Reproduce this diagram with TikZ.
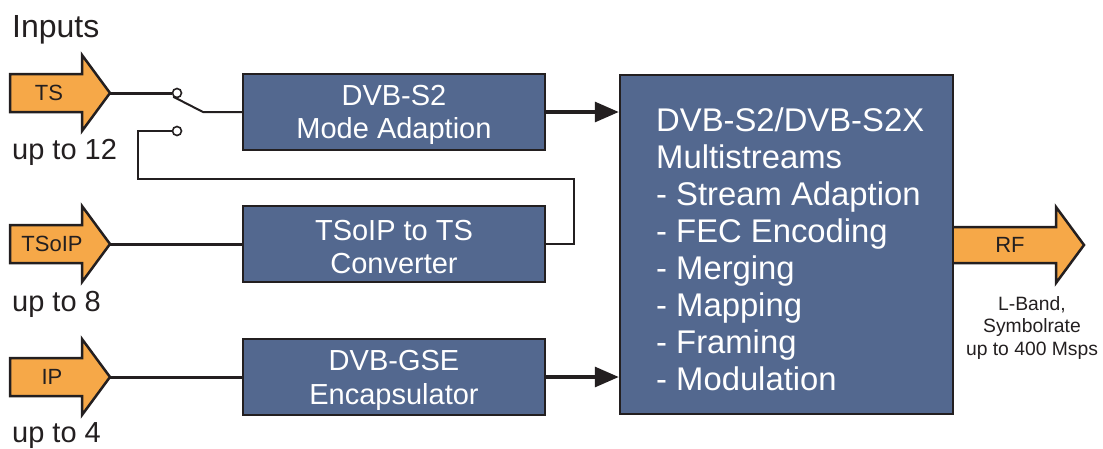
\documentclass[tikz,border=0pt]{standalone}
\usepackage{fontspec}
\setmainfont{Liberation Sans}
\usetikzlibrary{arrows.meta}
\definecolor{boxblue}{RGB}{83,104,143}
\definecolor{inorange}{RGB}{246,168,72}
\definecolor{ink}{RGB}{35,31,32}
\newcommand{\fsz}[2]{\fontsize{#1}{#2}\selectfont}
\newcommand{\topstrut}{\rule{0pt}{27pt}}
\begin{document}
\begin{tikzpicture}[x=1pt,y=-1pt,
  procbox/.style={draw=ink, line width=2.5pt, fill=boxblue, text=white,
    minimum width=302pt, minimum height=76pt, align=center,
    font=\fsz{29}{33}, inner sep=0pt},
  bigbox/.style={draw=ink, line width=2.5pt, fill=boxblue,
    minimum width=333pt, minimum height=339pt, inner sep=0pt},
  inarrow/.style={draw=ink, line width=2.5pt, fill=inorange, line join=miter},
  arrowlbl/.style={text=ink, font=\fsz{22}{26}, inner sep=0pt},
  plain/.style={text=ink, inner sep=0pt},
  wire/.style={draw=ink, line width=3pt},
  thinwire/.style={draw=ink, line width=2pt},
  flow/.style={draw=ink, line width=3.2pt, -{Triangle[length=24pt,width=20pt]}},
  contact/.style={circle, draw=ink, line width=1.6pt, fill=white,
    minimum size=9pt, inner sep=0pt}
]
\useasboundingbox (0,0) rectangle (1103,448);

% input arrows
\draw[inarrow] (10,74) -- (82,74) -- (82,55) -- (110,93) -- (82,131) -- (82,112) -- (10,112) -- cycle;
\draw[inarrow] (10,225) -- (82,225) -- (82,206) -- (110,244) -- (82,282) -- (82,263) -- (10,263) -- cycle;
\draw[inarrow] (10,358) -- (82,358) -- (82,339) -- (110,377) -- (82,415) -- (82,396) -- (10,396) -- cycle;
\node[arrowlbl] (tslbl) at (49,93) {TS};
\node[arrowlbl] (tsoiplbl) at (52,244) {TSoIP};
\node[arrowlbl] (iplbl) at (52,377) {IP};
\coordinate (tstip) at (110,93);
\coordinate (tsoiptip) at (110,244);
\coordinate (iptip) at (110,377);

% output arrow
\draw[inarrow] (953,227) -- (1056,227) -- (1056,207) -- (1084,245) -- (1056,283) -- (1056,263) -- (953,263);
\node[arrowlbl] (rflbl) at (1010,245) {RF};

% texts
\node[plain, anchor=base west, font=\fsz{32}{36}] (inputs) at (12,37) {Inputs};
\node[plain, anchor=base west, font=\fsz{29}{33}] (up12) at (12,159) {up to 12};
\node[plain, anchor=base west, font=\fsz{29}{33}] (up8) at (12,311) {up to 8};
\node[plain, anchor=base west, font=\fsz{29}{33}] (up4) at (12,442) {up to 4};
\node[plain, anchor=north, align=center, font=\fsz{19.3}{22.5}] (rfinfo) at (1032,296)
  {L-Band,\\Symbolrate\\up to 400 Msps};

% boxes
\node[procbox] (modead) at (394,112) {\topstrut DVB-S2\\Mode Adaption};
\node[procbox] (tsoip) at (394,244) {\topstrut TSoIP to TS\\Converter};
\node[procbox] (gse) at (394,377) {\topstrut DVB-GSE\\Encapsulator};
\node[bigbox] (mux) at (786.5,244.5) {};
\node[anchor=north west, align=left, text=white, font=\fsz{32.8}{37}, inner sep=0pt]
  (muxtext) at (656,108)
  {DVB-S2/DVB-S2X\\Multistreams\\- Stream Adaption\\- FEC Encoding\\- Merging\\- Mapping\\- Framing\\- Modulation};

% switch
\node[contact] (swA) at (177,93) {};
\node[contact] (swB) at (177,131) {};
\coordinate (lever) at (203,112);
\coordinate (loopA) at (138,179);
\coordinate (loopB) at (574,179);

% connectors
\draw[wire] (tstip) -- (swA.west);
\draw[thinwire] (swA.south west) -- (lever) -- (modead.west);
\draw[thinwire] (swB.west) -| (loopA) -- (loopB) |- (tsoip.east);
\draw[wire] (tsoiptip) -- (tsoip.west);
\draw[wire] (iptip) -- (gse.west);
\draw[flow] (modead.east) -- (modead.east -| mux.west);
\draw[flow] (gse.east) -- (gse.east -| mux.west);
\end{tikzpicture}
\end{document}
